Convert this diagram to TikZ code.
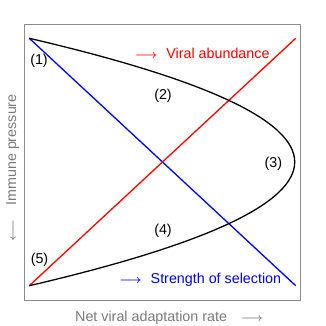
\documentclass[tikz,border=0pt]{standalone}
\usepackage{fontspec}
\setmainfont{Liberation Sans}
\newcommand{\myarr}{{\fontsize{11.5}{11.5}\selectfont\boldmath$\longrightarrow$}}
\newcommand{\myarrl}{{\fontsize{11.5}{11.5}\selectfont\boldmath$\longleftarrow$}}
\begin{document}
\begin{tikzpicture}[x=1pt,y=-1pt,
  lbl/.style={inner sep=0pt,font=\fontsize{14.3}{16}\selectfont},
  axlbl/.style={lbl,text=black!52},
  curve/.style={line width=1.3pt}]
\useasboundingbox (0,0) rectangle (326,326);
\draw[black!45,line width=0.8pt] (24.3,24.3) rectangle (300.5,300);
\coordinate (TL) at (29.3,38.3);
\coordinate (BL) at (29.3,285.7);
\coordinate (TR) at (295.7,38.3);
\coordinate (BR) at (295.7,285.7);
\coordinate (C1) at (383.2,120.8);
\coordinate (C2) at (383.2,203.2);
\draw[curve,blue] (TL) -- (BR);
\draw[curve,red] (BL) -- (TR);
\draw[curve,black] (TL) .. controls (C1) and (C2) .. (BL);
\node[lbl] (n1) at (39,61) {(1)};
\node[lbl] (n2) at (163,96) {(2)};
\node[lbl] (n3) at (273.3,163.3) {(3)};
\node[lbl] (n4) at (163,230.3) {(4)};
\node[lbl] (n5) at (39.5,260) {(5)};
\node[lbl,text=red,anchor=west] (va) at (135,53.3) {\myarr\hspace{9pt}Viral abundance};
\node[lbl,text=blue,anchor=west] (ss) at (119.3,280) {\myarr\hspace{9pt}Strength of selection};
\node[axlbl,anchor=west] (xl) at (75,317.7) {Net viral adaptation rate\hspace{14pt}\myarr};
\node[axlbl,anchor=west,rotate=90] (yl) at (12.7,242) {\myarrl\hspace{14pt}Immune pressure};
\end{tikzpicture}
\end{document}
